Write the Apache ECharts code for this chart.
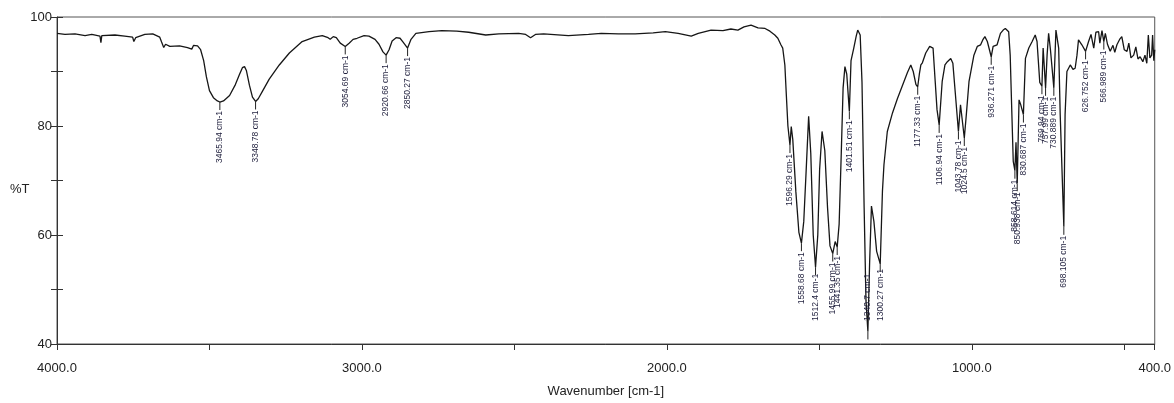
<!DOCTYPE html>
<html>
<head>
<meta charset="utf-8">
<script src="https://cdn.jsdelivr.net/npm/echarts@6/dist/echarts.min.js"></script>
<style>
html,body{margin:0;padding:0;background:#fff;}
#chart{width:1174px;height:403px;}
</style>
</head>
<body>
<div id="chart"></div>
<script>
// Wavenumber (cm-1) and transmittance (%T)
const wavenumbers = [4000,3974,3941,3908,3886,3859,3856,3853,3810,3778,3752,3748,3742,3712,3686,3663,3657,3650,3644,3630,3598,3572,3558,3552,3539,3529,3519,3510,3500,3487,3474,3465.94,3454,3434,3415,3402,3392,3385,3379,3369,3359,3348.78,3340,3326,3304,3271,3238,3196,3156,3130,3111,3104,3094,3084,3071,3054.69,3042,3029,3016,2993,2977,2957,2944,2931,2920.66,2911,2901,2888,2875,2865,2850.27,2839,2823,2780,2738,2689,2650,2594,2551,2486,2463,2447,2431,2404,2323,2257,2215,2159,2104,2045,2005,1963,1920,1897,1855,1816,1790,1767,1747,1724,1701,1678,1662,1646,1636,1626,1620,1613,1608,1603,1596.29,1592,1587,1577,1567,1558.68,1551,1543,1535,1528,1520,1512.4,1505,1499,1491,1482,1473,1465,1455.99,1448,1441.35,1435,1428,1422,1416,1410,1401.51,1396,1387,1379,1374,1366,1360,1353,1347,1340.7,1335,1329,1321,1312,1300.27,1293,1288,1277,1260,1244,1222,1211,1200,1192,1183,1177.33,1172,1167,1162,1151,1138,1127,1120,1114,1106.94,1097,1088,1080,1069,1062,1054,1043.78,1037,1024.5,1018,1009,993,982,971,964,957,949,936.271,930,917,906,897,890,879,874,870,864,858.614,855,850.938,845,840,830.687,824,813,802,792,786,777,769.94,766,757.99,753,748,742,730.889,724,715,710,698.105,694,688,677,668,661,655,650,639,626.752,617,609,600,593,584,580,573,566.989,562,555,546,537,531,524,514,508,500,491,485,478,469,462,455,448,439,432,426,421,416,410,407,403,400];
const transmittance = [97.0,96.8,96.9,96.6,96.8,96.5,95.3,96.6,96.7,96.5,96.3,95.5,96.2,96.8,96.9,96.3,95.4,94.4,95.0,94.6,94.7,94.4,94.1,94.8,94.7,94.0,92.0,89.0,86.5,85.2,84.6,84.4,84.6,85.6,87.6,89.4,90.7,90.9,90.2,87.5,85.3,84.5,85.0,86.4,88.6,91.2,93.4,95.5,96.3,96.6,96.2,95.9,96.4,96.2,95.2,94.6,95.2,95.9,96.1,96.6,96.5,95.9,95.0,93.6,93.0,94.0,95.6,96.2,96.1,95.4,94.3,95.9,97.0,97.3,97.5,97.4,97.2,96.7,96.9,97.0,96.8,96.2,96.8,96.9,96.6,96.8,97.0,96.9,96.9,97.1,97.3,97.0,96.5,97.0,97.6,97.5,97.8,97.6,98.2,98.5,98.0,97.9,97.4,96.7,96.1,94.9,94.3,91.2,85.5,80.0,76.5,79.9,77.5,68.0,60.5,58.5,62.5,72.0,81.8,75.0,60.0,54.1,60.0,72.0,79.0,75.5,65.0,58.0,56.6,58.8,57.8,62.0,75.0,87.0,90.9,89.5,82.7,92.0,94.3,96.5,97.6,96.7,88.0,65.0,48.0,42.3,55.0,65.3,62.5,57.0,54.7,68.0,72.9,79.0,82.4,85.0,88.2,89.8,91.2,90.0,87.6,87.2,89.5,91.2,91.6,93.4,94.6,94.3,88.2,83.0,80.2,88.2,91.2,91.8,92.4,91.5,86.0,79.0,83.9,77.8,82.0,88.2,93.0,94.6,94.9,95.8,96.4,95.5,92.7,94.6,94.9,97.0,97.6,97.9,97.3,93.0,85.1,73.5,71.8,77.0,69.5,84.8,84.0,82.1,92.4,94.3,95.5,96.7,95.5,88.0,87.3,94.3,87.0,93.0,97.0,94.0,87.0,97.6,94.3,82.1,61.5,82.1,90.0,91.2,90.4,90.6,93.0,95.8,94.9,93.7,95.5,96.8,94.3,97.2,97.3,95.2,97.5,95.5,97.0,95.0,93.7,94.8,93.5,94.9,96.0,96.4,94.0,93.7,95.2,92.5,93.0,94.5,92.3,92.7,91.8,93.0,91.5,96.7,92.5,93.0,96.7,92.0,94.0];

// Annotated peaks
const peakWavenumbers = [3465.94,3348.78,3054.69,2920.66,2850.27,1596.29,1558.68,1512.4,1455.99,1441.35,1401.51,1340.7,1300.27,1177.33,1106.94,1043.78,1024.5,936.271,858.614,850.938,830.687,769.94,757.99,730.889,698.105,626.752,566.989];
const peakT = [84.4,84.5,94.6,93.0,94.3,76.5,58.5,54.1,56.6,57.8,82.7,42.3,54.7,87.2,80.2,79.0,77.8,92.7,71.8,69.5,82.1,87.3,87.0,87.0,61.5,93.7,95.5];

const xTickValues = [4000,3500,3000,2500,2000,1500,1000,500,400];
const xLabelValues = [4000,3000,2000,1000,400];

const baseFont = '"Liberation Sans", Arial, sans-serif';
const labelFont = '8.5px "Liberation Sans", Arial, sans-serif';
const mctx = document.createElement('canvas').getContext('2d');
mctx.font = labelFont;

const chart = echarts.init(document.getElementById('chart'), null, {renderer: 'canvas'});

const option = {
  animation: false,
  backgroundColor: '#fff',
  grid: {left: 57, right: 16, top: 17, bottom: 58, show: true, borderColor: '#555', borderWidth: 1, backgroundColor: 'transparent'},
  graphic: [{
    type: 'text', left: 10, top: 183,
    style: {text: '%T', fontSize: 13, fill: '#222', fontFamily: baseFont}
  }],
  xAxis: {
    type: 'value', min: 400, max: 4000, inverse: true,
    axisLine: {show: true, lineStyle: {color: '#333', width: 1}},
    axisTick: {show: true, customValues: xTickValues, length: 6, lineStyle: {color: '#333'}},
    axisLabel: {customValues: xLabelValues, formatter: v => Number(v).toFixed(1), fontSize: 13, color: '#222', margin: 18, fontFamily: baseFont},
    splitLine: {show: false},
    name: 'Wavenumber [cm-1]', nameLocation: 'middle', nameGap: 41,
    nameTextStyle: {fontSize: 13, color: '#222', fontFamily: baseFont}
  },
  yAxis: [{
    type: 'value', min: 40, max: 100, interval: 10,
    axisLine: {show: true, lineStyle: {color: '#333', width: 1}},
    axisTick: {show: true, length: 6, lineStyle: {color: '#333'}},
    axisLabel: {formatter: v => (v % 20 === 0 ? String(v) : ''), fontSize: 13, color: '#222', margin: 5, fontFamily: baseFont},
    splitLine: {show: false}
  }, {
    type: 'value', min: 40, max: 100, interval: 10, position: 'left',
    axisLine: {show: false},
    axisTick: {show: true, inside: true, length: 6, lineStyle: {color: '#333'}},
    axisLabel: {show: false},
    splitLine: {show: false}
  }],
  series: [{
    type: 'line',
    data: wavenumbers.map((w, i) => [w, transmittance[i]]),
    showSymbol: false,
    symbol: 'none',
    lineStyle: {color: '#161616', width: 1.3},
    sampling: null,
    z: 2
  }, {
    type: 'custom',
    clip: false,
    z: 3,
    data: peakWavenumbers.map((w, i) => [w, peakT[i]]),
    renderItem: function (params, api) {
      const p = api.coord([api.value(0), api.value(1)]);
      const bottom = api.coord([api.value(0), 40])[1];
      const text = String(peakWavenumbers[params.dataIndex]) + ' cm-1';
      const len = mctx.measureText(text).width;
      const top = Math.min(p[1] + 9, bottom - 23 - len);
      return {
        type: 'group',
        children: [{
          type: 'line',
          shape: {x1: p[0], y1: p[1], x2: p[0], y2: Math.min(p[1] + 8, bottom)},
          style: {stroke: '#222', lineWidth: 1}
        }, {
          type: 'text',
          x: p[0], y: top,
          rotation: Math.PI / 2,
          style: {text: text, font: labelFont, fill: '#1e1e3c', align: 'right', verticalAlign: 'middle'}
        }]
      };
    }
  }]
};
chart.setOption(option);
</script>
</body>
</html>
